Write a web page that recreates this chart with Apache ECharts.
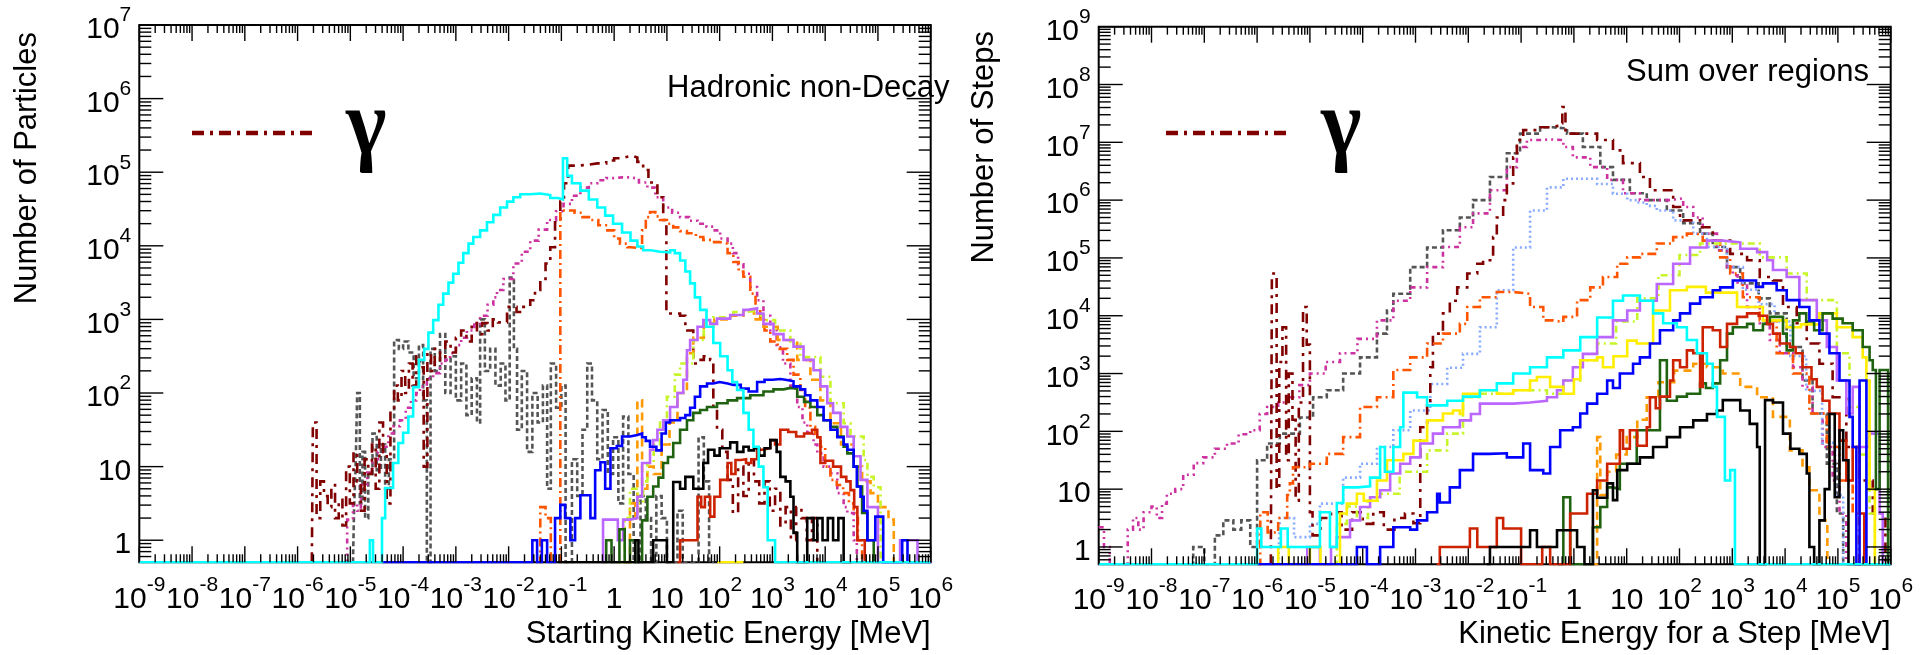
<!DOCTYPE html>
<html><head><meta charset="utf-8">
<script src="https://cdn.jsdelivr.net/npm/echarts@6/dist/echarts.min.js"></script>
<style>html,body{margin:0;padding:0;background:#fff}#c{width:1931px;height:655px}</style>
</head><body><div id="c"></div>
<script>
// All points are [log10(E / MeV) of bin left edge, log10(count)]; Z = empty bin (drawn on the axis floor 0.5)
const Z = -0.3;
const X_TICKS = [-9,-8,-7,-6,-5,-4,-3,-2,-1,0,1,2,3,4,5,6];
const Y_TICKS_L = [0,1,2,3,4,5,6,7];
const Y_TICKS_R = [0,1,2,3,4,5,6,7,8,9];
const TITLE_L = 'Hadronic non-Decay';
const TITLE_R = 'Sum over regions';
const XNAME_L = 'Starting Kinetic Energy [MeV]';
const XNAME_R = 'Kinetic Energy for a Step [MeV]';
const YNAME_L = 'Number of Particles';
const YNAME_R = 'Number of Steps';
const LEGEND_LABEL = 'γ';

// ---------------- left panel ----------------
const L_cyan = [[-9,Z],[-4.63,0],[-4.57,Z],[-4.40,0.3],[-4.34,0.71],[-4.19,1.05],[-4.09,1.32],[-4.0,1.46],[-3.9,1.68],[-3.81,2.08],[-3.7,2.45],[-3.6,2.6],[-3.52,2.82],[-3.43,2.99],[-3.33,3.2],[-3.24,3.35],[-3.14,3.5],[-3.05,3.62],[-2.95,3.77],[-2.86,3.9],[-2.76,4.03],[-2.67,4.12],[-2.54,4.21],[-2.41,4.32],[-2.29,4.42],[-2.16,4.52],[-2.03,4.6],[-1.91,4.66],[-1.78,4.7],[-1.59,4.71],[-1.4,4.69],[-1.21,4.65],[-1.06,4.63],[-0.97,5.19],[-0.89,4.95],[-0.8,4.85],[-0.64,4.75],[-0.48,4.63],[-0.32,4.52],[-0.17,4.41],[-0.02,4.3],[0.15,4.18],[0.31,4.07],[0.44,3.99],[0.55,3.94],[0.7,3.92],[0.87,3.91],[1.06,3.94],[1.15,3.9],[1.25,3.8],[1.35,3.65],[1.44,3.49],[1.53,3.3],[1.63,3.13],[1.75,2.9],[1.88,2.68],[2.01,2.5],[2.15,2.31],[2.24,2.15],[2.33,2.04],[2.45,1.73],[2.55,1.5],[2.64,1.27],[2.74,1.0],[2.83,0.72],[2.91,0],[3.05,Z],[6,Z]];
const L_gamma = [[-5.73,Z],[-5.71,1.6],[-5.64,0.3],[-5.57,0.8],[-5.5,0.6],[-5.43,0.45],[-5.36,0.75],[-5.29,0.3],[-5.22,0.55],[-5.15,0.2],[-5.08,1.0],[-5.01,0.5],[-4.94,1.2],[-4.87,0.8],[-4.8,0.4],[-4.73,1.1],[-4.66,0.9],[-4.59,1.3],[-4.52,0.7],[-4.45,1.6],[-4.38,1.2],[-4.31,0.5],[-4.24,1.75],[-4.17,2.1],[-4.1,1.9],[-4.03,2.3],[-3.96,2.0],[-3.89,2.4],[-3.82,2.1],[-3.75,2.5],[-3.68,2.35],[-3.61,1.0],[-3.54,2.55],[-3.47,2.3],[-3.4,2.6],[-3.3,2.45],[-3.2,2.7],[-3.1,2.55],[-3.0,2.75],[-2.9,2.85],[-2.8,2.7],[-2.7,2.95],[-2.6,2.8],[-2.5,2.95],[-2.4,2.85],[-2.3,3.0],[-2.2,2.96],[-2.03,3.17],[-1.85,3.1],[-1.72,3.17],[-1.59,3.26],[-1.5,3.4],[-1.4,3.55],[-1.3,3.76],[-1.21,3.98],[-1.12,4.32],[-1.02,4.6],[-0.95,4.85],[-0.87,5.09],[-0.7,5.1],[-0.5,5.12],[-0.32,5.12],[-0.15,5.16],[0.0,5.19],[0.15,5.21],[0.25,5.22],[0.35,5.2],[0.44,5.14],[0.55,5.03],[0.65,4.86],[0.82,4.66],[0.93,4.35],[0.99,3.08],[1.25,3.05],[1.35,2.85],[1.44,2.85],[1.5,2.4],[1.6,2.45],[1.7,2.5],[1.82,2.45],[1.88,1.8],[1.95,1.5],[2.05,1.2],[2.15,0.82],[2.25,0.37],[2.35,1.0],[2.45,0.6],[2.55,1.1],[2.65,0.8],[2.75,0.5],[2.85,0.8],[2.95,0.4],[3.05,0.7],[3.15,0.2],[3.25,0.45],[3.35,0],[3.45,0.45],[3.55,0.3],[3.65,0],[3.75,0.3],[3.85,Z]];
const L_magenta = [[-5.1,Z],[-5.06,0.28],[-4.95,0.5],[-4.87,0.4],[-4.8,0.75],[-4.68,0.92],[-4.58,1.1],[-4.48,1.2],[-4.38,1.27],[-4.28,1.45],[-4.18,1.55],[-4.06,1.63],[-3.95,1.8],[-3.85,1.9],[-3.75,2.0],[-3.68,2.09],[-3.55,2.2],[-3.43,2.27],[-3.3,2.4],[-3.2,2.45],[-3.11,2.54],[-3.0,2.65],[-2.9,2.75],[-2.79,2.85],[-2.65,2.93],[-2.54,3.05],[-2.4,3.2],[-2.29,3.3],[-2.22,3.4],[-2.1,3.55],[-1.91,3.76],[-1.75,3.92],[-1.59,4.07],[-1.43,4.22],[-1.27,4.35],[-1.1,4.47],[-0.96,4.57],[-0.8,4.68],[-0.64,4.79],[-0.48,4.85],[-0.32,4.89],[-0.15,4.92],[-0.02,4.93],[0.15,4.93],[0.31,4.91],[0.47,4.86],[0.63,4.79],[0.78,4.66],[0.93,4.52],[1.1,4.45],[1.25,4.39],[1.42,4.34],[1.58,4.3],[1.75,4.26],[1.88,4.21],[2.01,4.1],[2.15,4.03],[2.25,3.9],[2.35,3.75],[2.45,3.62],[2.58,3.44],[2.71,3.26],[2.83,3.05],[2.96,2.85],[3.08,2.62],[3.2,2.4],[3.34,2.1],[3.47,1.81],[3.57,1.6],[3.66,1.46],[3.78,1.3],[3.85,1.18],[3.97,1.0],[4.1,0.91],[4.23,0.64],[4.35,0.45],[4.42,0.37],[4.54,0],[4.6,Z]];
const L_orangered = [[-1.46,Z],[-1.40,0.45],[-1.3,0.3],[-1.2,Z],[-1.02,4.48],[-0.9,4.48],[-0.75,4.45],[-0.6,4.39],[-0.45,4.35],[-0.3,4.28],[-0.13,4.21],[0.0,4.1],[0.11,4.03],[0.25,3.98],[0.31,3.97],[0.49,3.97],[0.53,4.21],[0.6,4.39],[0.68,4.46],[0.78,4.4],[0.87,4.35],[1.0,4.3],[1.12,4.25],[1.25,4.2],[1.38,4.17],[1.55,4.12],[1.69,4.08],[1.85,4.05],[2.01,4.03],[2.15,3.9],[2.26,3.78],[2.36,3.65],[2.45,3.58],[2.58,3.35],[2.68,3.15],[2.77,2.99],[2.85,2.85],[2.96,2.7],[3.1,2.6],[3.28,2.45],[3.4,2.25],[3.53,2.04],[3.62,1.8],[3.72,1.54],[3.81,1.4],[3.91,1.27],[4.0,1.0],[4.1,0.82],[4.22,0.75],[4.34,0.64],[4.45,0.5],[4.54,0.37],[4.62,0],[4.7,Z]];
const L_gray = [[-4.95,Z],[-4.93,0.4],[-4.9,1.0],[-4.87,2.0],[-4.82,0.5],[-4.77,1.2],[-4.72,0.3],[-4.66,0.9],[-4.58,1.45],[-4.5,0.95],[-4.42,1.3],[-4.34,0.7],[-4.27,1.1],[-4.17,2.72],[-4.08,2.6],[-4.0,2.7],[-3.9,2.55],[-3.8,2.2],[-3.7,2.65],[-3.62,1.9],[-3.55,Z],[-3.48,2.6],[-3.4,2.3],[-3.3,2.8],[-3.2,2.0],[-3.1,2.5],[-3.0,1.9],[-2.9,2.4],[-2.8,1.7],[-2.7,2.2],[-2.6,1.6],[-2.54,3.0],[-2.45,2.3],[-2.35,2.6],[-2.25,2.1],[-2.15,2.4],[-2.06,1.9],[-1.98,3.57],[-1.9,2.6],[-1.84,1.5],[-1.75,2.3],[-1.65,1.2],[-1.55,2.0],[-1.45,1.6],[-1.35,2.1],[-1.27,0.7],[-1.2,2.4],[-1.1,1.8],[-1.0,2.1],[-0.92,Z],[-0.8,1.1],[-0.7,0.6],[-0.6,1.5],[-0.51,2.4],[-0.42,1.9],[-0.32,1.1],[-0.22,1.77],[-0.12,0.9],[-0.02,1.4],[0.08,0.5],[0.17,1.68],[0.27,0.9],[0.37,Z],[0.5,0.6],[0.6,0.3],[0.7,Z],[0.8,0.6],[0.9,0.3],[1.0,Z],[1.2,0.4],[1.3,Z],[1.6,1.4],[1.7,0.8],[1.8,Z],[1.9,Z]];
const L_blue = [[-4.4,Z],[-1.55,0],[-1.46,Z],[-1.37,0],[-1.27,Z],[-1.12,0.3],[-1.02,0.48],[-0.93,0.3],[-0.83,0],[-0.74,0.3],[-0.64,0.61],[-0.45,0.3],[-0.36,0.95],[-0.26,1.06],[-0.17,0.7],[-0.07,1.25],[0.05,1.28],[0.15,1.41],[0.3,1.43],[0.44,1.45],[0.53,1.4],[0.6,1.35],[0.68,1.27],[0.8,1.22],[0.9,1.45],[0.98,1.6],[1.06,1.63],[1.25,1.66],[1.35,1.7],[1.44,1.8],[1.53,1.95],[1.63,2.09],[1.76,2.13],[1.88,2.15],[2.0,2.13],[2.15,2.11],[2.26,2.11],[2.4,2.06],[2.55,2.02],[2.64,2.02],[2.71,2.15],[2.85,2.18],[3.0,2.19],[3.15,2.18],[3.25,2.16],[3.4,2.09],[3.53,2.05],[3.62,1.97],[3.72,1.9],[3.85,1.81],[3.97,1.63],[4.1,1.5],[4.23,1.4],[4.35,1.3],[4.42,1.23],[4.54,1.0],[4.6,0.73],[4.67,0.59],[4.73,0.4],[4.8,0],[4.95,0.32],[5.1,Z],[5.46,0],[5.56,Z],[6,Z]];
const L_green = [[-0.2,Z],[-0.15,0],[-0.05,Z],[0.1,0.15],[0.2,Z],[0.3,0],[0.4,Z],[0.53,0.27],[0.63,0.59],[0.74,0.73],[0.84,0.85],[0.93,1.05],[1.02,1.13],[1.12,1.32],[1.25,1.5],[1.38,1.63],[1.5,1.73],[1.63,1.77],[1.76,1.81],[1.95,1.86],[2.15,1.9],[2.33,1.93],[2.58,1.97],[2.83,2.02],[3.02,2.05],[3.21,2.07],[3.34,2.06],[3.47,1.95],[3.6,1.88],[3.72,1.81],[3.85,1.7],[3.97,1.63],[4.1,1.54],[4.23,1.41],[4.35,1.27],[4.42,1.18],[4.54,1.0],[4.61,0.73],[4.7,0.37],[4.8,0],[4.92,Z]];
const L_red = [[1.2,Z],[1.25,0],[1.58,0.59],[1.65,0.45],[1.72,0.59],[1.82,0.32],[1.9,0.59],[2.01,0.82],[2.15,1.05],[2.22,0.9],[2.3,1.09],[2.4,1.1],[2.5,1.05],[2.6,1.1],[2.71,1.23],[2.8,1.25],[2.96,1.36],[3.05,1.3],[3.15,1.5],[3.3,1.47],[3.45,1.41],[3.6,1.45],[3.75,1.5],[3.85,1.4],[3.91,1.05],[4.0,1.08],[4.15,1.0],[4.3,0.86],[4.4,0.8],[4.48,0.68],[4.55,0.45],[4.61,0],[4.75,Z]];
const L_black = [[-1.07,Z],[0.4,0],[0.46,Z],[0.74,0],[1.0,Z],[1.12,0.79],[1.25,0.7],[1.35,0.86],[1.5,0.7],[1.69,1.05],[1.78,1.23],[1.9,1.15],[2.0,1.25],[2.2,1.33],[2.33,1.2],[2.45,1.27],[2.55,1.22],[2.65,1.25],[2.75,1.15],[2.85,1.25],[2.96,1.36],[3.08,1.2],[3.15,0.86],[3.25,0.8],[3.34,0.59],[3.4,0.1],[3.47,Z],[3.66,0.3],[3.78,0],[3.85,0.3],[3.95,0],[4.05,0.3],[4.15,0],[4.25,0.3],[4.35,Z],[4.5,Z]];
const L_violet = [[-0.25,Z],[-0.21,0.28],[-0.05,0.28],[0.07,0],[0.17,0.28],[0.3,0.3],[0.44,0.59],[0.53,1.05],[0.63,1.05],[0.68,1.23],[0.74,1.36],[0.82,1.5],[0.93,1.63],[1.06,1.81],[1.2,2.0],[1.31,2.18],[1.38,2.58],[1.44,2.72],[1.58,2.9],[1.69,2.99],[1.82,2.94],[1.95,3.01],[2.2,3.06],[2.45,3.13],[2.53,3.15],[2.71,3.08],[2.83,2.94],[3.02,2.8],[3.21,2.72],[3.4,2.63],[3.59,2.45],[3.78,2.31],[3.91,2.09],[4.04,1.86],[4.15,1.73],[4.29,1.54],[4.42,1.41],[4.54,1.14],[4.67,0.82],[4.8,0.45],[4.92,0.45],[5.0,Z],[5.42,0],[5.6,0],[5.75,Z]];
const L_ygreen = [[0.1,Z],[0.2,0.3],[0.3,0.7],[0.45,0.5],[0.55,0.8],[0.63,1.05],[0.75,1.3],[0.87,1.63],[1.0,1.95],[1.15,2.25],[1.25,2.4],[1.5,2.72],[1.7,2.9],[1.88,3.03],[2.26,3.1],[2.5,3.12],[2.7,3.05],[2.83,2.99],[3.05,2.85],[3.34,2.67],[3.53,2.49],[3.91,2.22],[4.1,1.86],[4.35,1.59],[4.48,1.41],[4.73,1.09],[4.8,0.86],[4.92,0.72],[5.05,Z]];
const L_orange = [[0.2,Z],[0.3,0.5],[0.4,0.3],[0.44,1.9],[0.53,0.7],[0.63,1.0],[0.75,0.9],[0.9,1.3],[1.05,1.6],[1.2,2.0],[1.31,2.0],[1.38,2.54],[1.5,2.75],[1.7,2.95],[1.9,3.0],[2.2,3.05],[2.45,3.12],[2.65,3.0],[2.83,2.9],[3.1,2.72],[3.47,2.45],[3.72,2.18],[3.91,1.9],[4.1,1.59],[4.3,1.3],[4.54,1.0],[4.7,0.8],[4.86,0.64],[5.0,0.45],[5.2,0.28],[5.3,Z]];
const L_yellow = [[1.95,Z],[2.45,Z]];

// ---------------- right panel ----------------
const R_magenta = [[-9.0,0.34],[-8.9,0.0],[-8.79,Z],[-8.45,0.3],[-8.35,0.5],[-8.25,0.3],[-8.15,0.6],[-8.0,0.7],[-7.9,0.5],[-7.8,0.75],[-7.71,0.92],[-7.55,1.0],[-7.4,1.25],[-7.2,1.45],[-7.02,1.55],[-6.8,1.7],[-6.57,1.79],[-6.35,1.95],[-6.13,2.02],[-5.95,2.3],[-5.81,2.42],[-5.6,2.5],[-5.43,2.59],[-5.2,2.8],[-5.0,3.0],[-4.7,3.2],[-4.43,3.35],[-4.1,3.6],[-3.73,3.92],[-3.42,4.26],[-3.1,4.49],[-2.78,4.84],[-2.48,5.19],[-2.16,5.53],[-1.91,5.77],[-1.59,6.17],[-1.27,6.57],[-1.08,6.92],[-0.89,7.04],[-0.64,7.05],[-0.45,7.04],[-0.2,6.92],[-0.02,6.74],[0.31,6.57],[0.63,6.35],[0.93,6.12],[1.25,6.0],[1.57,6.0],[1.82,6.03],[2.07,5.88],[2.26,5.7],[2.44,5.42],[2.71,5.13],[2.9,4.84],[3.01,4.7],[3.1,4.55],[3.28,4.15],[3.52,3.87],[3.71,3.58],[3.9,3.35],[4.15,3.11],[4.33,2.77],[4.52,2.31],[4.71,1.73],[4.9,1.15],[5.03,0.58],[5.16,Z]];
const R_gray = [[-7.25,Z],[-7.21,0.0],[-7.0,Z],[-6.8,0.2],[-6.64,0.46],[-6.45,0.3],[-6.3,0.46],[-6.13,0.0],[-6.0,1.5],[-5.81,1.79],[-5.57,1.96],[-5.19,2.24],[-4.94,2.59],[-4.68,2.71],[-4.37,3.0],[-4.05,3.28],[-3.73,3.69],[-3.54,4.09],[-3.42,4.38],[-3.1,4.84],[-2.78,5.18],[-2.48,5.48],[-2.16,5.7],[-1.91,6.0],[-1.59,6.4],[-1.27,6.81],[-1.02,7.15],[-0.64,7.26],[-0.4,7.24],[-0.13,7.15],[0.17,6.92],[0.5,6.57],[0.74,6.35],[1.06,6.12],[1.38,6.0],[1.76,5.82],[2.07,5.6],[2.39,5.42],[2.63,5.19],[2.9,4.84],[3.15,4.56],[3.5,4.3],[3.71,4.04],[4.03,3.46],[4.33,2.88],[4.52,2.31],[4.79,1.44],[4.98,0.58],[5.1,Z]];
const R_gamma = [[-5.74,Z],[-5.72,4.73],[-5.63,1.0],[-5.58,3.2],[-5.52,3.8],[-5.45,1.5],[-5.4,3.0],[-5.33,2.2],[-5.27,0.8],[-5.21,2.5],[-5.13,4.15],[-5.06,3.5],[-5.0,0.6],[-4.95,0.2],[-4.8,0.5],[-4.6,0.6],[-4.4,0.3],[-4.2,0.6],[-4.0,0.4],[-3.8,0.6],[-3.6,0.3],[-3.4,0.5],[-3.2,0.58],[-3.04,0.41],[-2.91,2.07],[-2.78,2.5],[-2.72,3.11],[-2.67,3.69],[-2.48,4.04],[-2.35,4.26],[-2.21,4.49],[-2.02,4.73],[-1.83,4.9],[-1.72,4.96],[-1.53,5.36],[-1.46,5.7],[-1.34,6.0],[-1.27,6.29],[-1.15,6.74],[-1.08,7.04],[-0.96,7.21],[-0.7,7.26],[-0.45,7.29],[-0.26,7.33],[-0.22,7.61],[-0.16,7.15],[0.12,7.15],[0.44,7.04],[0.74,6.86],[0.93,6.64],[1.25,6.4],[1.44,6.17],[1.88,5.88],[2.01,5.65],[2.39,5.53],[2.63,5.3],[2.96,5.07],[3.28,4.96],[3.52,4.67],[3.77,4.61],[3.96,4.15],[4.22,3.87],[4.41,3.52],[4.65,3.17],[4.9,2.59],[5.16,1.73],[5.41,1.15],[5.66,0.58],[5.9,Z]];
const R_orangered = [[-6.0,Z],[-5.94,0.6],[-5.8,0.25],[-5.6,0.5],[-5.43,0.9],[-5.38,1.1],[-5.32,1.38],[-5.0,1.44],[-4.68,1.61],[-4.37,1.9],[-4.05,2.42],[-3.73,2.59],[-3.42,3.06],[-3.1,3.28],[-2.78,3.52],[-2.48,3.69],[-2.16,3.86],[-2.02,4.15],[-1.78,4.32],[-1.46,4.41],[-1.15,4.38],[-0.83,4.15],[-0.58,3.92],[-0.4,3.89],[-0.2,3.98],[0.06,4.27],[0.31,4.49],[0.55,4.67],[0.82,4.9],[1.01,5.01],[1.25,5.07],[1.57,5.25],[1.88,5.36],[2.14,5.42],[2.33,5.39],[2.44,5.3],[2.77,5.01],[2.96,4.73],[3.2,4.32],[3.52,3.92],[3.84,3.35],[4.15,3.0],[4.46,2.31],[4.79,1.73],[5.03,1.15],[5.28,0.58],[5.4,Z]];
const R_lightblue = [[-5.6,Z],[-5.57,0.5],[-5.3,0.17],[-5.0,0.4],[-4.81,0.75],[-4.37,1.2],[-4.05,1.44],[-3.73,1.73],[-3.42,2.02],[-3.1,2.36],[-2.72,2.82],[-2.4,3.1],[-2.1,3.34],[-1.78,3.8],[-1.46,4.44],[-1.15,5.18],[-0.83,5.82],[-0.51,6.22],[-0.2,6.37],[0.12,6.37],[0.44,6.28],[0.74,6.11],[1.01,6.0],[1.19,5.96],[1.38,5.9],[1.57,5.82],[1.88,5.65],[2.26,5.42],[2.52,5.19],[2.9,4.84],[3.2,4.45],[3.5,4.2],[3.8,3.9],[4.1,3.3],[4.4,2.7],[4.7,1.8],[4.95,0.9],[5.1,Z]];
const R_cyan = [[-9,Z],[-6.0,0.32],[-5.92,0],[-5.55,0.32],[-5.42,0],[-4.81,0.6],[-4.62,0],[-4.49,0.76],[-4.37,1.03],[-4.1,1.05],[-3.86,1.2],[-3.67,1.73],[-3.58,1.3],[-3.42,1.73],[-3.29,2.07],[-3.23,2.67],[-2.97,2.59],[-2.78,2.45],[-2.4,2.53],[-2.1,2.6],[-1.78,2.71],[-1.46,2.83],[-1.15,3.0],[-0.83,3.11],[-0.51,3.28],[-0.2,3.4],[0.12,3.63],[0.44,3.97],[0.74,4.26],[0.93,4.35],[1.06,4.35],[1.25,4.26],[1.5,4.04],[1.69,3.87],[1.95,3.8],[2.14,3.58],[2.33,3.35],[2.52,3.17],[2.63,2.77],[2.71,2.25],[2.86,1.15],[2.96,1.33],[3.05,Z],[6,Z]];
const R_ygreen = [[-4.55,Z],[-4.49,0.4],[-4.3,0.7],[-4.11,0.5],[-3.9,0.8],[-3.67,0.92],[-3.3,1.3],[-2.78,1.67],[-2.4,1.96],[-2.1,2.59],[-1.78,2.65],[-1.15,2.71],[-0.51,2.65],[-0.2,2.88],[0.12,3.23],[0.44,3.52],[0.8,3.9],[1.2,4.3],[1.6,4.7],[2.0,5.05],[2.39,5.25],[3.0,5.25],[3.52,5.01],[4.03,4.73],[4.41,4.27],[4.98,3.35],[5.22,2.42],[5.41,1.6],[5.6,0.58],[5.7,Z]];
const R_violet = [[-5.1,Z],[-5.05,0],[-4.81,Z],[-4.6,0],[-4.49,0.17],[-4.24,0.46],[-4.05,0.69],[-3.86,0.86],[-3.67,0.98],[-3.48,1.27],[-3.29,1.44],[-3.1,1.55],[-2.91,1.79],[-2.67,1.96],[-2.48,2.07],[-2.16,2.19],[-1.95,2.3],[-1.78,2.48],[-1.15,2.5],[-0.83,2.53],[-0.51,2.59],[-0.32,2.71],[-0.2,2.88],[-0.02,3.11],[0.17,3.34],[0.44,3.63],[0.74,3.92],[1.01,4.09],[1.25,4.26],[1.57,4.55],[1.88,4.9],[2.2,5.18],[2.52,5.3],[2.82,5.27],[3.15,5.16],[3.47,5.1],[3.66,4.96],[3.77,4.79],[4.03,4.67],[4.27,4.27],[4.6,3.92],[4.79,3.46],[4.98,2.88],[5.16,2.31],[5.28,2.77],[5.41,1.73],[5.6,1.96],[5.79,0.58],[5.85,Z]];
const R_yellow = [[-5.65,Z],[-5.6,0],[-5.4,Z],[-5.0,0],[-4.8,Z],[-4.43,0.58],[-4.3,0.75],[-4.11,0.92],[-3.98,0.8],[-3.73,1.15],[-3.54,1.5],[-3.23,1.61],[-3.04,1.84],[-2.78,2.19],[-2.48,2.31],[-2.29,2.36],[-2.16,2.3],[-2.1,2.65],[-1.78,2.71],[-1.46,2.65],[-1.15,2.71],[-0.83,2.88],[-0.7,2.94],[-0.45,2.77],[-0.2,2.65],[0.0,2.9],[0.12,3.23],[0.44,3.28],[0.55,3.11],[0.75,3.3],[1.01,3.57],[1.19,3.52],[1.5,4.09],[1.82,4.44],[2.14,4.5],[2.5,4.4],[3.09,4.15],[3.58,3.92],[4.03,3.8],[4.3,3.85],[4.65,4.04],[4.98,3.8],[5.28,3.63],[5.47,3.28],[5.54,2.88],[5.6,1.0],[5.7,Z]];
const R_blue = [[-6.0,Z],[-4.11,0],[-3.92,Z],[-3.67,0],[-3.42,0.34],[-3.1,0.3],[-2.97,0.46],[-2.78,0.6],[-2.59,0.92],[-2.54,0.77],[-2.35,1.03],[-2.16,1.33],[-1.91,1.61],[-1.6,1.62],[-1.27,1.55],[-0.96,1.79],[-0.83,1.33],[-0.58,1.27],[-0.45,1.73],[-0.26,2.02],[-0.02,2.07],[0.12,2.31],[0.25,2.48],[0.44,2.65],[0.63,2.88],[0.74,2.75],[0.87,3.0],[1.12,3.17],[1.25,3.28],[1.44,3.52],[1.63,3.75],[1.88,3.92],[2.01,4.04],[2.2,4.21],[2.39,4.32],[2.63,4.44],[2.77,4.49],[3.01,4.61],[3.3,4.61],[3.45,4.5],[3.58,4.56],[3.84,4.44],[4.03,4.27],[4.27,4.15],[4.46,3.92],[4.65,3.69],[4.84,3.35],[5.03,2.88],[5.22,2.25],[5.28,1.73],[5.35,Z],[5.41,2.88],[5.54,Z]];
const R_green = [[-0.3,Z],[-0.2,0.86],[-0.07,Z],[0.36,0.34],[0.5,0.69],[0.63,1.03],[0.74,1.0],[0.87,1.44],[1.06,1.44],[1.19,2.02],[1.38,2.02],[1.63,3.23],[1.76,2.53],[1.95,2.6],[2.14,2.65],[2.39,2.83],[2.5,2.75],[2.63,2.83],[2.77,3.23],[2.9,3.69],[3.01,3.8],[3.28,3.86],[3.4,3.75],[3.58,3.86],[3.71,3.98],[3.9,3.98],[3.96,3.69],[4.03,3.4],[4.15,3.92],[4.27,4.04],[4.4,3.9],[4.55,3.75],[4.71,4.04],[4.9,3.95],[5.09,3.87],[5.28,3.75],[5.47,3.46],[5.6,3.23],[5.66,3.06],[5.72,1.0],[5.79,3.06],[5.95,Z]];
const R_red = [[-2.6,Z],[-2.54,0],[-2.02,0],[-1.97,0.32],[-1.83,0],[-1.6,0],[-1.46,0.5],[-1.34,0.32],[-1.0,Z],[-0.6,0],[-0.45,Z],[-0.07,0.58],[0.25,0.92],[0.44,1.15],[0.63,1.44],[0.87,2.02],[0.93,1.7],[1.06,2.02],[1.2,1.75],[1.38,2.07],[1.44,2.59],[1.55,2.4],[1.63,2.6],[1.82,2.88],[1.88,3.23],[2.01,3.11],[2.14,3.4],[2.26,3.35],[2.39,2.77],[2.44,3.8],[2.63,3.75],[2.77,3.46],[2.9,3.86],[3.09,3.98],[3.28,4.04],[3.5,4.0],[3.66,3.86],[3.77,3.69],[3.9,3.52],[4.09,3.46],[4.2,3.35],[4.33,3.11],[4.5,2.9],[4.6,2.77],[4.71,2.53],[4.84,2.31],[5.03,1.84],[5.16,1.15],[5.28,1.73],[5.41,0.58],[5.5,Z]];
const R_black = [[-1.65,Z],[-1.59,0],[-1.2,0],[-0.83,0.29],[-0.7,0],[-0.32,0.29],[-0.15,0.29],[0.06,0],[0.2,Z],[0.36,0.98],[0.44,0.85],[0.63,1.1],[0.74,0.81],[0.82,1.33],[1.01,1.44],[1.25,1.55],[1.5,1.73],[1.76,1.9],[2.01,2.07],[2.26,2.19],[2.52,2.3],[2.71,2.36],[2.82,2.54],[2.96,2.54],[3.15,2.36],[3.33,2.13],[3.47,1.73],[3.52,Z],[3.62,2.54],[3.77,2.5],[3.96,1.96],[4.1,1.7],[4.27,1.61],[4.41,1.27],[4.46,0],[4.55,Z],[4.65,0.46],[4.75,1.0],[4.84,2.3],[4.94,0.86],[5.03,2.02],[5.1,1.5],[5.2,Z],[6,Z]];
const R_orange = [[0.3,Z],[0.44,1.9],[0.5,0.9],[0.63,1.3],[0.8,1.6],[1.0,1.9],[1.2,2.2],[1.38,2.59],[1.6,2.85],[1.9,3.05],[2.26,3.17],[2.52,3.11],[2.82,3.0],[3.15,2.77],[3.47,2.59],[3.77,2.25],[4.09,1.67],[4.33,1.38],[4.46,0.98],[4.65,0.46],[4.8,Z]];

// [data, colour, dash pattern (null = solid)] in drawing order
const LEFT = [
  [L_gray,'#555555',[5,3]],[L_magenta,'#cc33a0',[5,4,2,4,2,4]],[L_gamma,'#800000',[10,6,3,6]],
  [L_orangered,'#ff5500',[9,4,2,4]],[L_orange,'#ff9900',[8,5]],[L_ygreen,'#c8f52a',[7,4,2,4]],
  [L_violet,'#bb66ff',null],[L_yellow,'#ffee00',null],[L_green,'#1f6310',null],[L_red,'#cc2200',null],
  [L_black,'#000000',null],[L_blue,'#0000ff',null],[L_cyan,'#00ffff',null]
];
const RIGHT = [
  [R_gray,'#555555',[5,3]],[R_magenta,'#cc33a0',[5,4,2,4,2,4]],[R_lightblue,'#88aaff',[2,3]],[R_gamma,'#800000',[10,6,3,6]],
  [R_orangered,'#ff5500',[9,4,2,4]],[R_orange,'#ff9900',[8,5]],[R_ygreen,'#c8f52a',[7,4,2,4]],
  [R_violet,'#bb66ff',null],[R_yellow,'#ffee00',null],[R_green,'#1f6310',null],[R_red,'#cc2200',null],
  [R_black,'#000000',null],[R_blue,'#0000ff',null],[R_cyan,'#00ffff',null]
];

const XMIN = -9, XMAX = 6, YMIN = -0.3;
const FONT = '"Liberation Sans", Arial, sans-serif';

function labelFmt(v) {
  const n = Math.round(v);
  if (Math.abs(v - n) > 1e-6) return '';
  if (n === 0) return '{b|1}';
  if (n === 1) return '{b|10}';
  return '{b|10}{s|' + n + '}';
}
const RICH = {
  b: {fontFamily: FONT, fontSize: 30, lineHeight: 40, verticalAlign: 'bottom', color: '#000'},
  s: {fontFamily: FONT, fontSize: 21, lineHeight: 21, verticalAlign: 'top', color: '#000'}
};

function tickSeries(gi, ymax) {
  const d = [];
  for (let n = XMIN; n <= XMAX; n++) {
    d.push([n, 1, 0]);
    if (n < XMAX) for (let k = 2; k <= 9; k++) d.push([n + Math.log10(k), 0, 0]);
  }
  for (let n = -1; n <= ymax; n++) {
    if (n >= 0) d.push([n, 1, 1]);
    if (n < ymax) for (let k = 2; k <= 9; k++) { const v = n + Math.log10(k); if (v > YMIN + 0.01) d.push([v, 0, 1]); }
  }
  return {
    type: 'custom', xAxisIndex: gi, yAxisIndex: gi, silent: true, clip: false, z: 10,
    data: d, encode: {x: 0, y: 1},
    renderItem(params, api) {
      const v = api.value(0), major = api.value(1), dir = api.value(2);
      const st = {stroke: '#000', lineWidth: 1.4};
      if (dir === 0) {
        const a = api.coord([v, YMIN]), b = api.coord([v, ymax]); const L = major ? 16 : 8;
        return {type: 'group', children: [
          {type: 'line', shape: {x1: a[0], y1: a[1], x2: a[0], y2: a[1] - L}, style: st},
          {type: 'line', shape: {x1: b[0], y1: b[1], x2: b[0], y2: b[1] + L}, style: st}]};
      }
      const a = api.coord([XMIN, v]), b = api.coord([XMAX, v]); const L = major ? 24 : 12;
      return {type: 'group', children: [
        {type: 'line', shape: {x1: a[0], y1: a[1], x2: a[0] + L, y2: a[1]}, style: st},
        {type: 'line', shape: {x1: b[0], y1: b[1], x2: b[0] - L, y2: b[1]}, style: st}]};
    }
  };
}

function histSeries(list, gi) {
  return list.map(([data, color, dash]) => ({
    type: 'line', xAxisIndex: gi, yAxisIndex: gi, data: data, step: 'end',
    showSymbol: false, symbol: 'none', silent: true, animation: false, clip: true,
    lineStyle: {color: color, width: 2.6, type: dash || 'solid', cap: 'butt', join: 'miter'}
  }));
}

function xAxis(gi, margin) {
  return {type: 'value', gridIndex: gi, min: XMIN, max: XMAX, interval: 1,
    axisLine: {show: false}, axisTick: {show: false}, splitLine: {show: false},
    axisLabel: {customValues: X_TICKS, formatter: labelFmt, rich: RICH, margin: margin, hideOverlap: false}};
}
function yAxis(gi, ymax, ticks) {
  return {type: 'value', gridIndex: gi, min: YMIN, max: ymax,
    axisLine: {show: false}, axisTick: {show: false}, splitLine: {show: false},
    axisLabel: {customValues: ticks, formatter: labelFmt, rich: RICH, margin: 8}};
}

const GAMMA_FONT = 'bold 94px "Liberation Serif", "DejaVu Serif", serif';
const chart = echarts.init(document.getElementById('c'), null, {renderer: 'canvas'});
chart.setOption({
  animation: false,
  backgroundColor: '#fff',
  grid: [
    {left: 139.3, top: 25, width: 791.4, height: 537.3, show: true, borderColor: '#000', borderWidth: 2, backgroundColor: 'transparent'},
    {left: 1098.7, top: 26.7, width: 792, height: 537.6, show: true, borderColor: '#000', borderWidth: 2, backgroundColor: 'transparent'}
  ],
  xAxis: [xAxis(0, 12), xAxis(1, 11)],
  yAxis: [yAxis(0, 7, Y_TICKS_L), yAxis(1, 9, Y_TICKS_R)],
  series: [].concat(histSeries(LEFT, 0), histSeries(RIGHT, 1), [tickSeries(0, 7), tickSeries(1, 9)]),
  graphic: [
    {type: 'text', x: 667, y: 88, style: {text: TITLE_L, font: '31px ' + FONT, fill: '#000', align: 'left', verticalAlign: 'middle'}, z: 20},
    {type: 'text', x: 1626, y: 72, style: {text: TITLE_R, font: '31px ' + FONT, fill: '#000', align: 'left', verticalAlign: 'middle'}, z: 20},
    {type: 'text', x: 930.7, y: 634, style: {text: XNAME_L, font: '31px ' + FONT, fill: '#000', align: 'right', verticalAlign: 'middle'}},
    {type: 'text', x: 1890.7, y: 634, style: {text: XNAME_R, font: '31px ' + FONT, fill: '#000', align: 'right', verticalAlign: 'middle'}},
    {type: 'text', x: 27.3, y: 32, rotation: Math.PI / 2, style: {text: YNAME_L, font: '31px ' + FONT, fill: '#000', align: 'right', verticalAlign: 'middle'}},
    {type: 'text', x: 984, y: 31, rotation: Math.PI / 2, style: {text: YNAME_R, font: '31px ' + FONT, fill: '#000', align: 'right', verticalAlign: 'middle'}},
    {type: 'line', shape: {x1: 192, y1: 133, x2: 318, y2: 133}, style: {stroke: '#800000', lineWidth: 4.5, lineDash: [12, 6, 3, 6]}},
    {type: 'line', shape: {x1: 1166, y1: 133, x2: 1292, y2: 133}, style: {stroke: '#800000', lineWidth: 4.5, lineDash: [12, 6, 3, 6]}},
    {type: 'text', x: 346, y: 129, scaleX: 0.92, style: {text: LEGEND_LABEL, font: GAMMA_FONT, fill: '#000', align: 'left', verticalAlign: 'middle'}},
    {type: 'text', x: 1321, y: 129, scaleX: 0.92, style: {text: LEGEND_LABEL, font: GAMMA_FONT, fill: '#000', align: 'left', verticalAlign: 'middle'}}
  ]
});
</script></body></html>
